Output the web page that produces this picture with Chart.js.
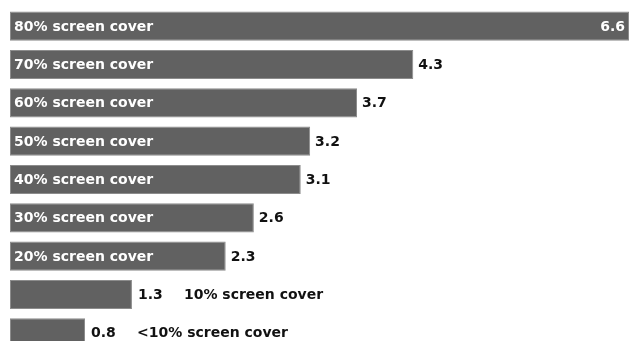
<!DOCTYPE html>
<html><head><meta charset="utf-8">
<script src="https://cdn.jsdelivr.net/npm/chart.js@4/dist/chart.umd.min.js"></script>
<style>html,body{margin:0;padding:0;background:#fff;overflow:hidden;width:630px;height:341px}
#wrap{position:relative;width:630px;height:352px}</style>
</head><body><div id="wrap"><canvas id="c"></canvas></div>
<script>
const categories = ["80% screen cover","70% screen cover","60% screen cover","50% screen cover","40% screen cover","30% screen cover","20% screen cover","10% screen cover","<10% screen cover"];
const values = [6.6,4.3,3.7,3.2,3.1,2.6,2.3,1.3,0.8];
const valueLabels = ["6.6","4.3","3.7","3.2","3.1","2.6","2.3","1.3","0.8"];
const FONT = '"DejaVu Sans", sans-serif';

const labelPlugin = {
  id:'lbl',
  afterDatasetsDraw(chart){
    const ctx = chart.ctx;
    const meta = chart.getDatasetMeta(0);
    ctx.save();
    ctx.font = '700 14px ' + FONT;
    ctx.textBaseline = 'middle';
    meta.data.forEach((bar,i)=>{
      const left = bar.base, right = bar.x, y = bar.y + 1;
      const catW = ctx.measureText(categories[i]).width;
      const inside = (right - left) > catW + 20;
      if (i === 0) {
        ctx.fillStyle = '#fff'; ctx.textAlign='left';
        ctx.fillText(categories[i], left+4, y);
        ctx.textAlign='right';
        ctx.fillText(valueLabels[i], right-4, y);
      } else if (inside) {
        ctx.fillStyle = '#fff'; ctx.textAlign='left';
        ctx.fillText(categories[i], left+4, y);
        ctx.fillStyle = '#111';
        ctx.fillText(valueLabels[i], right+5, y);
      } else {
        ctx.fillStyle = '#111'; ctx.textAlign='left';
        ctx.fillText(valueLabels[i], right+6, y);
        ctx.fillText(categories[i], right+52, y);
      }
    });
    ctx.restore();
  }
};

new Chart(document.getElementById('c'), {
  type:'bar',
  data:{ labels: categories, datasets:[{ data: values, backgroundColor:'#616161', borderColor:'#8c8c8c', borderWidth:1, borderSkipped:false, barPercentage:0.76, categoryPercentage:1 }]},
  options:{
    indexAxis:'y', responsive:true, maintainAspectRatio:false, animation:false,
    layout:{padding:{left:10,right:1,top:7,bottom:0}},
    plugins:{legend:{display:false},tooltip:{enabled:false}},
    scales:{
      x:{display:false,min:0,max:6.6},
      y:{display:false}
    }
  },
  plugins:[labelPlugin]
});
</script></body></html>
